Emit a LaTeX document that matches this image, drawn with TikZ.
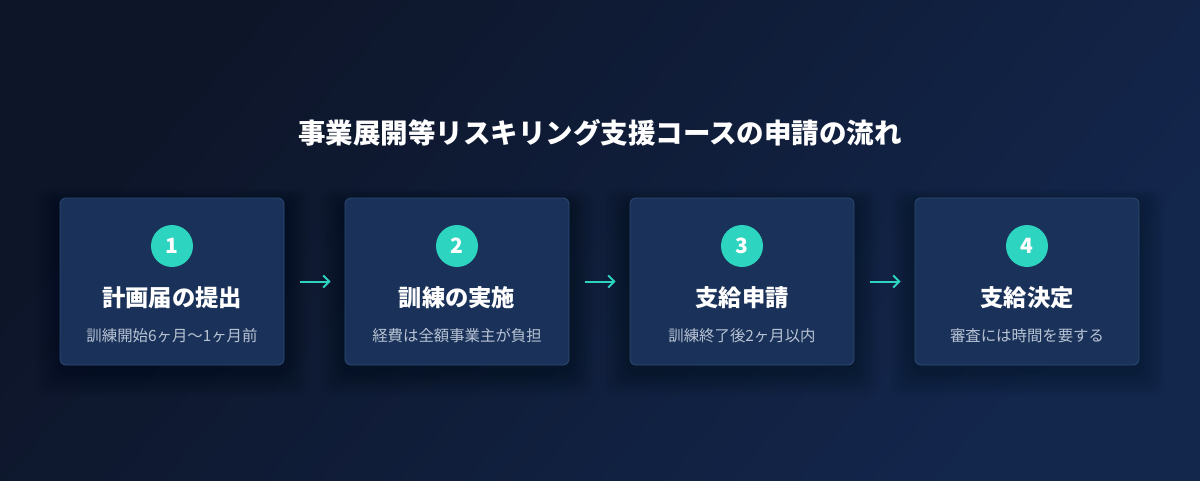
\documentclass[tikz,border=0pt]{standalone}
\usepackage{fontspec}
\newfontfamily\cjk{Noto Sans CJK JP}
\usetikzlibrary{arrows.meta}
\definecolor{bgA}{HTML}{0D1528}
\definecolor{bgB}{HTML}{13264C}
\definecolor{boxfill}{HTML}{1A3259}
\definecolor{boxline}{HTML}{2E4B74}
\definecolor{teal}{HTML}{2DD4BF}
\definecolor{subtxt}{HTML}{B8C3D4}
\tikzset{
  stepbox/.style={draw=boxline, line width=0.8pt, fill=boxfill, rounded corners=6pt,
    minimum width=224pt, minimum height=167pt, inner sep=0pt},
  badge/.style={circle, fill=teal, minimum size=42pt, inner sep=0pt,
    font=\cjk\bfseries\fontsize{21}{21}\selectfont, text=white},
  steptitle/.style={font=\cjk\bfseries\fontsize{23.3}{23.3}\selectfont, text=white, inner sep=0pt},
  stepsub/.style={font=\cjk\fontsize{15.4}{15.4}\selectfont, text=subtxt, inner sep=0pt},
  flow/.style={draw=teal, line width=2pt, -{Straight Barb[length=6pt,width=12pt]},
    shorten <=16pt, shorten >=14pt},
}
\begin{document}
\begin{tikzpicture}[x=1pt,y=-1pt]
\useasboundingbox (0,0) rectangle (1200,480);
\shade[top color=bgA, bottom color=bgB, shading angle=50] (0,0) rectangle (1200,480);
\node[font=\cjk\bfseries\fontsize{27.5}{27.5}\selectfont, text=white, inner sep=0pt] (title) at (600,133) {事業展開等リスキリング支援コースの申請の流れ};
\foreach \i/\x/\t/\s in {1/172/計画届の提出/訓練開始6ヶ月〜1ヶ月前, 2/457/訓練の実施/経費は全額事業主が負担, 3/742/支給申請/訓練終了後2ヶ月以内, 4/1027/支給決定/審査には時間を要する}{
  \foreach \k in {1,...,10}{
    \fill[black, opacity=0.025, rounded corners=10pt] (\x-112-\k*2.5,198-\k*1.5+6) rectangle (\x+112+\k*2.5,365+\k*2.5+6);
  }
  \node[stepbox] (box\i) at (\x,281.5) {};
  \node[badge] (num\i) at (\x,246) {\i};
  \node[steptitle] (head\i) at (\x,298) {\t};
  \node[stepsub] (sub\i) at (\x,336) {\s};
}
\draw[flow] (box1.east) -- (box2.west);
\draw[flow] (box2.east) -- (box3.west);
\draw[flow] (box3.east) -- (box4.west);
\end{tikzpicture}
\end{document}
